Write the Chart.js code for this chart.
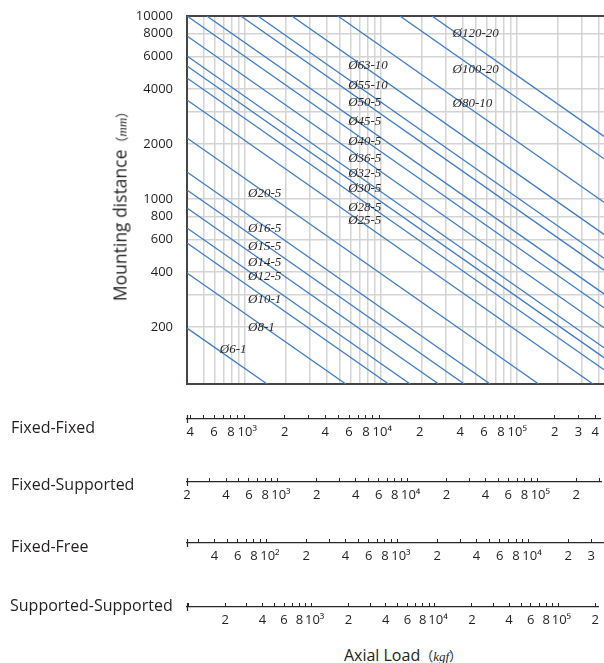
<!DOCTYPE html>
<html>
<head>
<meta charset="utf-8">
<script src="https://cdn.jsdelivr.net/npm/chart.js@4.4.1/dist/chart.umd.min.js"></script>
<style>
  html, body { margin: 0; padding: 0; background: #fff; }
  #page { position: relative; width: 604px; height: 663px; overflow: hidden; font-family: "Open Sans", "Noto Sans", sans-serif; color: #231f20; }
  canvas { position: absolute; left: 0; }
  .txt { position: absolute; font-size: 16px; line-height: 20px; white-space: nowrap; }
  .it { font-family: "Liberation Serif", serif; font-style: italic; font-size: 13px; }
  .par { font-family: "Noto Sans CJK JP", sans-serif; font-size: 13px; }
  #ytitle { left: 121px; top: 203px; font-size: 17.5px; transform: translate(-50%, -50%) rotate(-90deg); }
  #xtitle { left: 403px; top: 645px; transform: translateX(-50%); }
</style>
</head>
<body>
<div id="page">
  <canvas id="mainChart" width="604" height="400" style="top:0"></canvas>
  <canvas id="axFF" width="604" height="34" style="top:411px"></canvas>
  <canvas id="axFS" width="604" height="34" style="top:474px"></canvas>
  <canvas id="axFR" width="604" height="34" style="top:535px"></canvas>
  <canvas id="axSS" width="604" height="34" style="top:599px"></canvas>

  <div class="txt" id="ytitle">Mounting distance<span class="par">（</span><span class="it">mm</span><span class="par">）</span></div>
  <div class="txt" style="left:11px;top:417px">Fixed-Fixed</div>
  <div class="txt" style="left:11px;top:474px">Fixed-Supported</div>
  <div class="txt" style="left:11px;top:536px">Fixed-Free</div>
  <div class="txt" style="left:10px;top:595px">Supported-Supported</div>
  <div class="txt" id="xtitle">Axial Load<span class="par">（</span><span class="it">kgf</span><span class="par">）</span></div>
</div>

<script>
// ---- data (load in kgf on the Fixed-Fixed scale, distance in mm) ----
const diaLabels = ["Ø6-1","Ø8-1","Ø10-1","Ø12-5","Ø14-5","Ø15-5","Ø16-5","Ø20-5",
  "Ø25-5","Ø28-5","Ø30-5","Ø32-5","Ø36-5","Ø40-5","Ø45-5","Ø50-5","Ø55-10","Ø63-10",
  "Ø80-10","Ø100-20","Ø120-20"];

// where each line enters the plot
const startLoad = [378,378,378,378,378,378,378,378,378,378,378,378,378,378,528,938,1251,2223,4841,13810,23740];
const startDist = [197,394,575,694,893,1120,1404,2154,3475,4584,5331,6046,7776,10000,10000,10000,10000,10000,10000,10000,10000];
// where each line leaves the plot
const endLoad = [1464,5534,11410,16420,26580,41050,63520,144200,361400,435400,435400,435400,435400,435400,435400,435400,435400,435400,435400,435400,435400];
const endDist = [97.5,97.5,97.5,97.5,97.5,97.5,97.5,97.5,97.5,116.7,135.8,153.9,198,254.7,302.9,408.7,474.8,640.5,960.5,1658,2198];

// label anchor (left edge of text)
const tagLoad = [658,1062,1062,1062,1062,1062,1062,1062,5761,5761,5761,5761,5761,5761,5761,5761,5761,5761,33690,33690,33690];
const tagDist = [151,199,281,376,449,549,691,1065,758,900,1134,1382,1669,2056,2635,3346,4145,5331,3334,5069,7973];

// main axes
const loadMin = 378, loadMax = 435400;
const distMin = 97.5, distMax = 10000;
const distGrid   = [200,300,400,600,800,1000,2000,3000,4000,6000,8000,10000];
const distLabels = [200,400,600,800,1000,2000,4000,6000,8000,10000];

// bottom scales: [min, max] and the labelled ticks
const ffRange = [378, 435400];
const ffLabels = [400,600,800,1e3,2e3,4e3,6e3,8e3,1e4,2e4,4e4,6e4,8e4,1e5,2e5,3e5,4e5];
const fsRange = [200, 312000];
const fsLabels = [200,400,600,800,1e3,2e3,4e3,6e3,8e3,1e4,2e4,4e4,6e4,8e4,1e5,2e5];
const frRange = [24.66, 37540];
const frLabels = [40,60,80,100,200,400,600,800,1e3,2e3,4e3,6e3,8e3,1e4,2e4,3e4];
const ssRange = [98, 211300];
const ssLabels = [200,400,600,800,1e3,2e3,4e3,6e3,8e3,1e4,2e4,4e4,6e4,8e4,1e5,2e5];

const LINE_BLUE = "#3f7cc6";
const DARK = "#4a4343";
const GRID = "#d4d4d4";
const SANS = "'Open Sans', 'Noto Sans', 'DejaVu Sans', sans-serif";

// ---- helpers ----
const SUP = ["⁰","¹","²","³","⁴","⁵","⁶","⁷","⁸","⁹"];
function decadeTicks(min, max) {
  const out = [];
  const k0 = Math.floor(Math.log10(min)), k1 = Math.ceil(Math.log10(max));
  for (let k = k0; k <= k1; k++) {
    const p = Math.pow(10, k);
    for (let m = 1; m <= 9; m++) {
      const v = m * p;
      if (v >= min * 0.999 && v <= max * 1.001) out.push(v);
    }
  }
  return out;
}
function tickText(v) {
  const k = Math.floor(Math.log10(v) + 1e-9);
  const m = Math.round(v / Math.pow(10, k));
  // en space keeps "10ⁿ" a bit right of its tick, like the print
  return m === 1 ? "\u200210" + SUP[k] : String(m);
}

// ---- main chart ----
const datasets = diaLabels.map((name, i) => ({
  label: name,
  data: [{x: startLoad[i], y: startDist[i]}, {x: endLoad[i], y: endDist[i]}],
  borderColor: LINE_BLUE,
  borderWidth: 1.3,
  pointRadius: 0,
  fill: false,
  tension: 0
}));

const tagPlugin = {
  id: "tags",
  afterDatasetsDraw(chart) {
    const {ctx, scales: {x, y}} = chart;
    ctx.save();
    ctx.font = "italic 13px 'Liberation Serif', serif";
    ctx.fillStyle = "#2a2626";
    ctx.textAlign = "left";
    ctx.textBaseline = "middle";
    diaLabels.forEach((t, i) => {
      ctx.fillText(t, x.getPixelForValue(tagLoad[i]), y.getPixelForValue(tagDist[i]));
    });
    ctx.restore();
  }
};

const mainGridX = decadeTicks(500, loadMax);

new Chart(document.getElementById("mainChart"), {
  type: "line",
  data: { datasets },
  plugins: [tagPlugin],
  options: {
    responsive: false,
    animation: false,
    events: [],
    layout: { padding: { left: 0, right: 0, top: 16, bottom: 16 } },
    plugins: { legend: { display: false }, tooltip: { enabled: false } },
    scales: {
      x: {
        type: "logarithmic",
        min: loadMin, max: loadMax,
        afterBuildTicks: s => { s.ticks = mainGridX.map(v => ({value: v})); },
        afterFit: s => { s.height = 0; },
        ticks: { display: false },
        grid: { color: GRID, lineWidth: 1.5, drawTicks: false },
        border: { color: DARK, width: 2 }
      },
      y: {
        type: "logarithmic",
        min: distMin, max: distMax,
        afterBuildTicks: s => { s.ticks = distGrid.map(v => ({value: v})); },
        afterFit: s => { s.width = 187; },
        ticks: {
          padding: 2,
          color: "#231f20",
          font: { family: SANS, size: 13 },
          callback: v => distLabels.includes(v) ? String(v) : ""
        },
        grid: {
          drawTicks: true,
          tickLength: 12,
          tickColor: "rgba(0,0,0,0)",
          color: c => (c.tick && c.tick.value === distMax) ? DARK : GRID,
          lineWidth: c => (c.tick && c.tick.value === distMax) ? 2 : 1.5
        },
        border: { color: DARK, width: 2 }
      }
    }
  }
});

// ---- bottom load scales ----
const capPlugin = {
  id: "cap",
  afterDraw(chart) {
    const {ctx, chartArea: a} = chart;
    ctx.save();
    ctx.strokeStyle = "#2b2626";
    ctx.lineWidth = 1.2;
    ctx.beginPath();
    ctx.moveTo(a.left + 0.5, a.bottom - 4);
    ctx.lineTo(a.left + 0.5, a.bottom + 4);
    ctx.stroke();
    ctx.restore();
  }
};

function makeLoadScale(id, range, labelled) {
  const vals = decadeTicks(range[0], range[1]);
  return new Chart(document.getElementById(id), {
    type: "line",
    data: { datasets: [] },
    plugins: [capPlugin],
    options: {
      responsive: false,
      animation: false,
      events: [],
      layout: { padding: { left: 187, right: 0, top: 4, bottom: 0 } },
      plugins: { legend: { display: false }, tooltip: { enabled: false } },
      scales: {
        y: { display: false, min: 0, max: 1 },
        x: {
          type: "logarithmic",
          min: range[0], max: range[1],
          afterBuildTicks: s => { s.ticks = vals.map(v => ({value: v})); },
          afterFit: s => { s.height = 26; },
          ticks: {
            autoSkip: false,
            maxRotation: 0,
            padding: 5,
            color: "#231f20",
            font: { family: SANS, size: 13 },
            callback: v => labelled.includes(v) ? tickText(v) : ""
          },
          grid: { color: "#2b2626", lineWidth: 1, drawTicks: false },
          border: { color: "#2b2626", width: 1.3 }
        }
      }
    }
  });
}

makeLoadScale("axFF", ffRange, ffLabels);
makeLoadScale("axFS", fsRange, fsLabels);
makeLoadScale("axFR", frRange, frLabels);
makeLoadScale("axSS", ssRange, ssLabels);
</script>
</body>
</html>
